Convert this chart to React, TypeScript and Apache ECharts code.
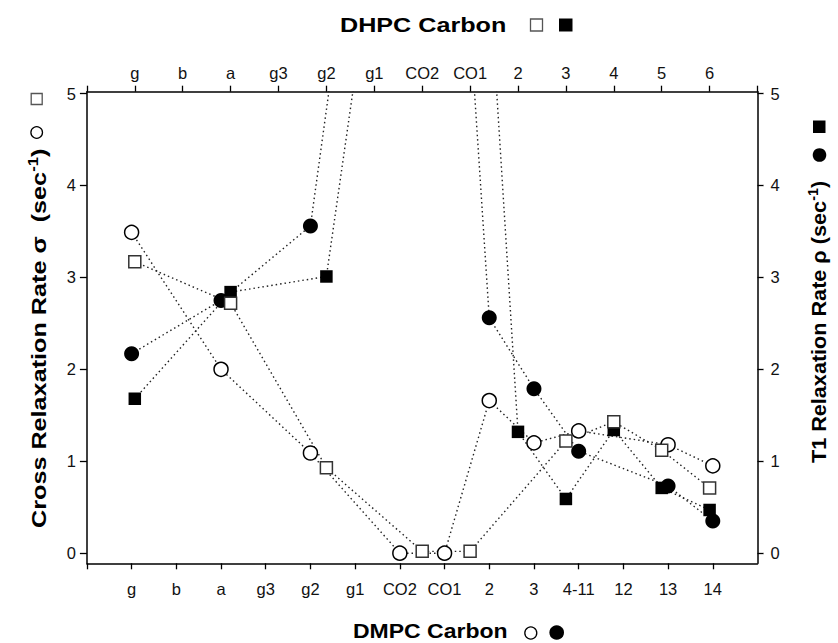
import React, { useEffect, useRef } from 'react';
import * as echarts from 'echarts';

// Tick labels of the two x axes
const dmpcCarbons = ['g', 'b', 'a', 'g3', 'g2', 'g1', 'CO2', 'CO1', '2', '3', '4-11', '12', '13', '14'];
const dhpcCarbons = ['g', 'b', 'a', 'g3', 'g2', 'g1', 'CO2', 'CO1', '2', '3', '4', '5', '6'];
const rateTicks = [0, 1, 2, 3, 4, 5];

// DMPC cross relaxation rate sigma (open circles, bottom / left axes)
const dmpcSigmaAt = ['g', 'a', 'g2', 'CO2', 'CO1', '2', '3', '4-11', '13', '14'];
const dmpcSigma = [3.49, 2.0, 1.09, 0.0, 0.0, 1.66, 1.2, 1.33, 1.18, 0.95];

// DMPC T1 relaxation rate rho (filled circles, bottom / right axes); g1, CO1 run off scale
const dmpcRhoAt = ['g', 'a', 'g2', 'g1', 'CO1', '2', '3', '4-11', '13', '14'];
const dmpcRho = [2.17, 2.75, 3.56, 7.1, 10.0, 2.56, 1.79, 1.11, 0.73, 0.35];

// DHPC cross relaxation rate sigma (open squares, top / left axes)
const dhpcSigmaAt = ['g', 'a', 'g2', 'CO2', 'CO1', '3', '4', '5', '6'];
const dhpcSigma = [3.17, 2.72, 0.93, 0.02, 0.02, 1.22, 1.43, 1.12, 0.71];

// DHPC T1 relaxation rate rho (filled squares, top / right axes); g1, CO1 run off scale
const dhpcRhoAt = ['g', 'a', 'g2', 'g1', 'CO1', '2', '3', '4', '5', '6'];
const dhpcRho = [1.68, 2.84, 3.01, 6.65, 9.63, 1.32, 0.59, 1.34, 0.71, 0.47];

const FONT = '"Liberation Sans", Arial, Helvetica, sans-serif';

function pairs(at: string[], vals: number[], cats: string[]) {
  return at.map((c, i) => [cats.indexOf(c) + 1, vals[i]]);
}

export default function App() {
  const ref = useRef<HTMLDivElement>(null);

  useEffect(() => {
    const chart = echarts.init(ref.current!, null, { renderer: 'svg', width: 838, height: 643 });

    const lineStyle = { color: '#222', width: 1.4, type: [1.5, 3] as any };
    const axisLine = { show: true, onZero: false, lineStyle: { color: '#000', width: 1.5 } };
    const tickStyle = { color: '#000', width: 1.3 };
    const labelStyle = { fontSize: 16.5, color: '#111', fontFamily: FONT };

    const dS = pairs(dmpcSigmaAt, dmpcSigma, dmpcCarbons);
    const dR = pairs(dmpcRhoAt, dmpcRho, dmpcCarbons);
    const hS = pairs(dhpcSigmaAt, dhpcSigma, dhpcCarbons);
    const hR = pairs(dhpcRhoAt, dhpcRho, dhpcCarbons);

    const lineSeries = (data: number[][], xi: number, yi: number) => ({
      type: 'line', xAxisIndex: xi, yAxisIndex: yi, data, showSymbol: false, symbol: 'none',
      lineStyle, clip: true, z: 2, silent: true,
    });
    const markSeries = (data: number[][], xi: number, yi: number, symbol: string, size: any, itemStyle: any) => ({
      type: 'scatter', xAxisIndex: xi, yAxisIndex: yi, data, symbol, symbolSize: size,
      itemStyle: { opacity: 1, ...itemStyle }, clip: true, z: 3, silent: true,
    });

    const richMain = { fontSize: 21, fontWeight: 'bold', fontFamily: FONT, fill: '#000', lineHeight: 26 };
    const richSup = { fontSize: 14, fontWeight: 'bold', fontFamily: FONT, fill: '#000', lineHeight: 13, verticalAlign: 'top' };

    const option: any = {
      animation: false,
      backgroundColor: '#fff',
      grid: { left: 86.9, right: 80.5, top: 91.7, bottom: 79.7, outerBoundsMode: 'none' },
      xAxis: [
        {
          type: 'value', position: 'bottom', min: 0, max: 15,
          axisLine, splitLine: { show: false },
          axisTick: { show: true, inside: false, length: 6, lineStyle: tickStyle,
            customValues: [0, ...dmpcCarbons.map((_, i) => i + 1)] },
          axisLabel: { ...labelStyle, margin: 17, customValues: dmpcCarbons.map((_, i) => i + 1),
            formatter: (v: number) => dmpcCarbons[Math.round(v) - 1] ?? '' },
        },
        {
          type: 'value', position: 'top', min: 0, max: 14,
          axisLine, splitLine: { show: false },
          axisTick: { show: true, inside: false, length: 6, lineStyle: tickStyle,
            customValues: [0, ...dhpcCarbons.map((_, i) => i + 1), dhpcCarbons.length + 1] },
          axisLabel: { ...labelStyle, margin: 10, customValues: dhpcCarbons.map((_, i) => i + 1),
            formatter: (v: number) => dhpcCarbons[Math.round(v) - 1] ?? '' },
        },
      ],
      yAxis: [
        {
          type: 'value', position: 'left', min: -0.11, max: 5.02,
          axisLine, splitLine: { show: false },
          axisTick: { show: true, inside: false, length: 7, lineStyle: tickStyle, customValues: rateTicks },
          axisLabel: { ...labelStyle, margin: 11, customValues: rateTicks, formatter: (v: number) => String(Math.round(v)) },
        },
        {
          type: 'value', position: 'right', min: -0.11, max: 5.02,
          axisLine, splitLine: { show: false },
          axisTick: { show: true, inside: false, length: 6, lineStyle: tickStyle, customValues: rateTicks },
          axisLabel: { ...labelStyle, margin: 13, customValues: rateTicks, formatter: (v: number) => String(Math.round(v)) },
        },
      ],
      series: [
        lineSeries(hR, 1, 1),
        lineSeries(hS, 1, 0),
        lineSeries(dR, 0, 1),
        lineSeries(dS, 0, 0),
        markSeries(hR, 1, 1, 'rect', 12.5, { color: '#000' }),
        markSeries(dR, 0, 1, 'circle', 15, { color: '#000' }),
        markSeries(dS, 0, 0, 'circle', 14, { color: '#fff', borderColor: '#000', borderWidth: 1.5 }),
        markSeries(hS, 1, 0, 'rect', 12, { color: '#fff', borderColor: '#333', borderWidth: 1.5 }),
      ],
      graphic: [
        // top title
        { type: 'text', x: 340, y: 25.3, scaleX: 1.29, silent: true,
          style: { text: 'DHPC Carbon', fontSize: 19.5, fontWeight: 'bold', fontFamily: FONT, fill: '#000',
            align: 'left', verticalAlign: 'middle', textAlign: 'left', textVerticalAlign: 'middle' } },
        { type: 'rect', silent: true, shape: { x: 530.5, y: 19, width: 12, height: 12 },
          style: { fill: '#fff', stroke: '#555', lineWidth: 1.3 } },
        { type: 'rect', silent: true, shape: { x: 559, y: 18.5, width: 13.5, height: 13 },
          style: { fill: '#000' } },
        // bottom title
        { type: 'text', x: 353, y: 632, scaleX: 1.18, silent: true,
          style: { text: 'DMPC Carbon', fontSize: 19.5, fontWeight: 'bold', fontFamily: FONT, fill: '#000',
            align: 'left', verticalAlign: 'middle', textAlign: 'left', textVerticalAlign: 'middle' } },
        { type: 'circle', silent: true, shape: { cx: 530.8, cy: 633, r: 6 },
          style: { fill: '#fff', stroke: '#000', lineWidth: 1.3 } },
        { type: 'circle', silent: true, shape: { cx: 556.7, cy: 632.5, r: 7.3 },
          style: { fill: '#000' } },
        // left axis title
        { type: 'text', x: 39.2, y: 528, rotation: Math.PI / 2, scaleX: 1.2, silent: true,
          style: { text: '{m|Cross Relaxation Rate σ  (sec}{s|-1}{m|)}', rich: { m: richMain, s: richSup },
            fontSize: 21, fontWeight: 'bold', fontFamily: FONT, fill: '#000',
            align: 'left', verticalAlign: 'middle', textAlign: 'left', textVerticalAlign: 'middle' } },
        { type: 'circle', silent: true, shape: { cx: 36.7, cy: 132.5, r: 5.8 },
          style: { fill: '#fff', stroke: '#000', lineWidth: 1.3 } },
        { type: 'rect', silent: true, shape: { x: 31.2, y: 93.5, width: 11, height: 11 },
          style: { fill: '#fff', stroke: '#555', lineWidth: 1.3 } },
        // right axis title
        { type: 'text', x: 819.2, y: 463, rotation: Math.PI / 2, scaleX: 1.03, silent: true,
          style: { text: '{m|T1 Relaxation Rate ρ (sec}{s|-1}{m|)}', rich: { m: richMain, s: richSup },
            fontSize: 21, fontWeight: 'bold', fontFamily: FONT, fill: '#000',
            align: 'left', verticalAlign: 'middle', textAlign: 'left', textVerticalAlign: 'middle' } },
        { type: 'circle', silent: true, shape: { cx: 819.5, cy: 155, r: 6.8 },
          style: { fill: '#000' } },
        { type: 'rect', silent: true, shape: { x: 813, y: 120.5, width: 12.5, height: 12.5 },
          style: { fill: '#000' } },
      ],
    };

    chart.setOption(option);
    return () => chart.dispose();
  }, []);

  return (
    <div
      ref={ref}
      style={{ position: 'fixed', left: 0, top: 0, width: 838, height: 643, background: '#fff' }}
    />
  );
}
